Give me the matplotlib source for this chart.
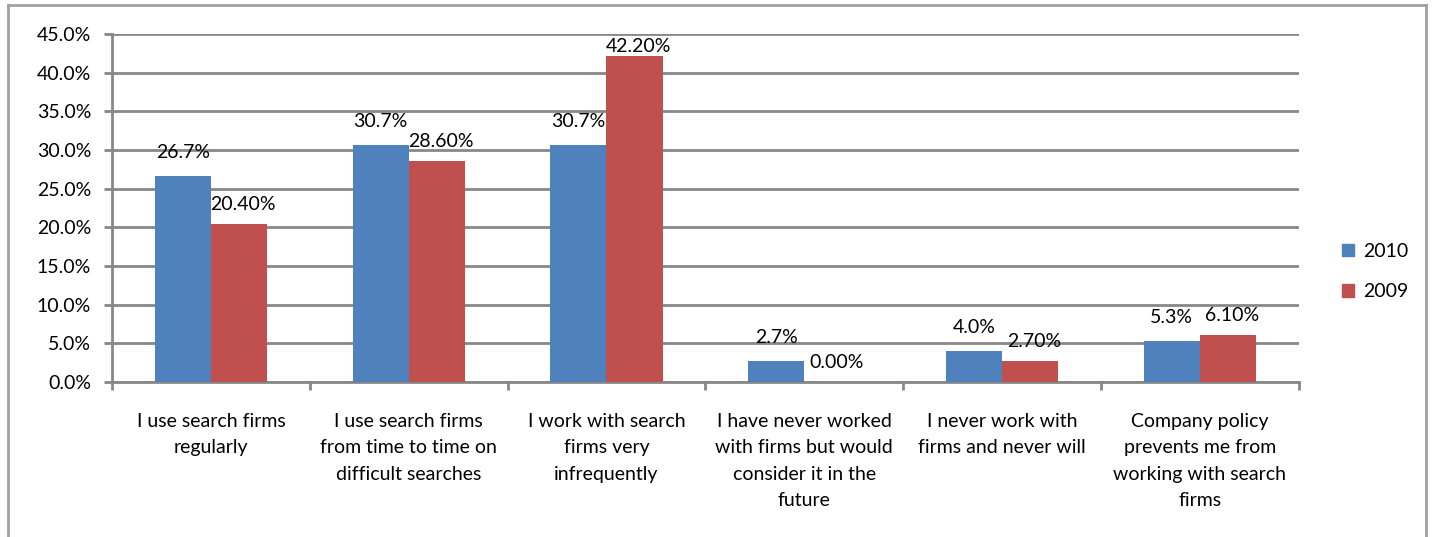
import matplotlib.pyplot as plt
import numpy as np
from matplotlib.patches import Patch

# survey answers and the share of respondents per year
categories = ['I use search firms\nregularly',
              'I use search firms\nfrom time to time on\ndifficult searches',
              'I work with search\nfirms very\ninfrequently',
              'I have never worked\nwith firms but would\nconsider it in the\nfuture',
              'I never work with\nfirms and never will',
              'Company policy\nprevents me from\nworking with search\nfirms']
pct_2010 = [26.7, 30.7, 30.7, 2.7, 4.0, 5.3]
pct_2009 = [20.40, 28.60, 42.20, 0.00, 2.70, 6.10]
y_ticks = [0, 5, 10, 15, 20, 25, 30, 35, 40, 45]

blue = '#4F81BD'
red = '#C0504D'
grey = '#888888'
fs = 14

plt.rcParams['font.family'] = ['Lato', 'DejaVu Sans']

fig = plt.figure(figsize=(14.32, 5.37), dpi=100)
ax = fig.add_axes([0.0782, 0.2886, 0.907 - 0.0782, 0.9367 - 0.2886])

x = np.arange(len(categories))
w = 0.284
ax.bar(x - w / 2, pct_2010, w, color=blue, label='2010', zorder=3)
ax.bar(x + w / 2, pct_2009, w, color=red, label='2009', zorder=3)

for i in range(len(categories)):
    ax.text(x[i] - w / 2, pct_2010[i] + 1.9, '%.1f%%' % pct_2010[i],
            ha='center', va='bottom', fontsize=fs)
    # labels near the top of the scale get pulled down
    ax.text(x[i] + w / 2 + 0.02, min(pct_2009[i] + 1.4, 42.3), '%.2f%%' % pct_2009[i],
            ha='center', va='bottom', fontsize=fs)

ax.set_xlim(-0.5, len(categories) - 0.5)
ax.set_ylim(0, 45)
ax.set_yticks(y_ticks)
ax.set_yticklabels(['%.1f%%' % t for t in y_ticks], fontsize=fs)
ax.yaxis.grid(True, color=grey, linewidth=2, zorder=0)

# category labels sit between boundary ticks
ax.set_xticks(np.arange(len(categories) + 1) - 0.5)
ax.set_xticklabels([])
ax.set_xticks(x, minor=True)
ax.set_xticklabels(categories, minor=True, fontsize=fs, linespacing=1.68, va='top')
ax.tick_params(axis='x', which='minor', length=0, pad=22)
ax.tick_params(axis='x', which='major', length=6, width=2, color=grey)
ax.tick_params(axis='y', length=6, width=2, color=grey, pad=9)

for s in ['top', 'right']:
    ax.spines[s].set_visible(False)
for s in ['left', 'bottom']:
    ax.spines[s].set_color(grey)
    ax.spines[s].set_linewidth(2)

handles = [Patch(color=blue, label='2010'), Patch(color=red, label='2009')]
fig.legend(handles=handles, loc='upper left', bbox_to_anchor=(0.925, 0.58),
           frameon=False, fontsize=fs, handlelength=0.6, handleheight=0.6,
           handletextpad=0.5, labelspacing=1.2)

# outer chart border
for xs, ys in [([0.0056, 0.0056], [0, 0.991]), ([0.0056, 0.9958], [0.991, 0.991]),
               ([0.9958, 0.9958], [0.991, 0])]:
    fig.add_artist(plt.Line2D(xs, ys, color='#A0A0A0', linewidth=2))

fig.savefig('out.png', dpi=100)
